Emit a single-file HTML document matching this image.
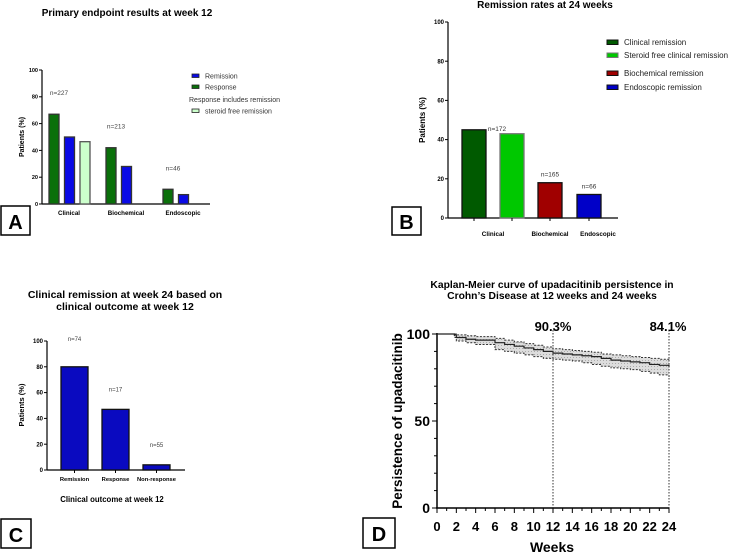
<!DOCTYPE html>
<html><head><meta charset="utf-8">
<style>
html,body{margin:0;padding:0;background:#fff;}
svg{display:block;font-family:"Liberation Sans",Arial,sans-serif;}
</style></head>
<body>
<svg id="fig" width="735" height="554" viewBox="0 0 735 554" xmlns="http://www.w3.org/2000/svg">
<defs>
<pattern id="hatch" width="3" height="3" patternUnits="userSpaceOnUse"><rect width="3" height="3" fill="#ddd"/><rect width="1" height="1" fill="#aaa"/></pattern>
</defs>
<text x="127" y="16" font-size="10" font-weight="bold" text-anchor="middle">Primary endpoint results at week 12</text>
<text x="545" y="8" font-size="10" font-weight="bold" text-anchor="middle">Remission rates at 24 weeks</text>
<text x="125" y="298" font-size="10.5" font-weight="bold" text-anchor="middle">Clinical remission at week 24  based on</text>
<text x="125" y="310" font-size="10.5" font-weight="bold" text-anchor="middle">clinical outcome at week 12</text>
<text x="552" y="288" font-size="10.3" font-weight="bold" text-anchor="middle">Kaplan-Meier curve of upadacitinib persistence in</text>
<text x="552" y="299" font-size="10.3" font-weight="bold" text-anchor="middle">Crohn’s Disease at 12 weeks and 24 weeks</text>

<g><rect x="1" y="206" width="29" height="29" fill="#fff" stroke="#000" stroke-width="1.5"/><text x="15.5" y="229" font-size="20" font-weight="bold" text-anchor="middle">A</text></g>
<g><rect x="392" y="207" width="29" height="28" fill="#fff" stroke="#000" stroke-width="1.5"/><text x="406.5" y="229" font-size="20" font-weight="bold" text-anchor="middle">B</text></g>
<g><rect x="1" y="519" width="30" height="29" fill="#fff" stroke="#000" stroke-width="1.5"/><text x="16" y="542" font-size="20" font-weight="bold" text-anchor="middle">C</text></g>
<g><rect x="363" y="518" width="32" height="30" fill="#fff" stroke="#000" stroke-width="1.5"/><text x="379" y="541" font-size="20" font-weight="bold" text-anchor="middle">D</text></g>

<g id="A"></g><g id="B"></g><g id="C"></g><g id="D"></g>
</svg>
<script>
// ---------- Panel A data ----------
const aCategories = ["Clinical","Biochemical","Endoscopic"];
const aResponse = [67, 42, 11];
const aRemission = [50, 28, 7];
const aSteroidFree = [46.5, null, null];
const aN = ["n=227","n=213","n=46"];
// ---------- Panel B data ----------
const bCategories = ["Clinical","Biochemical","Endoscopic"];
const bSeries = ["Clinical remission","Steroid free clinical remission","Biochemical remission","Endoscopic remission"];
const bValues = [45, 43, 18, 12];
const bN = ["n=172","","n=165","n=66"];
// ---------- Panel C data ----------
const cCategories = ["Remission","Response","Non-response"];
const cValues = [80, 47, 4];
const cN = ["n=74","n=17","n=55"];
// ---------- Panel D data ----------
const dTimes = [0,1.8,2,3,4,6,7,8,9,10,11,12,13,14,15,16,17,18,19,20,21,22,23,24];
const dSurv  = [100,99.5,98,97,96.5,95,94,93,92,91,90,89,88.5,88,87.5,87,86,85,84.5,84,83.5,82.5,82,81];
const dUpper = [100,100,99.5,99,98.5,97.5,96.5,95.5,94.5,93.5,92.5,91.5,91,90.5,90,89.5,88.5,88,87.5,87,86.5,86,85.5,85];
const dLower = [100,98,96,95,94,91,90,89,88,87,86,85.5,85,84.5,83.5,82.5,81.5,80.5,80,79.5,78.5,77.5,76.5,75];
const dXTicks = [0,2,4,6,8,10,12,14,16,18,20,22,24];
const dYTicks = [0,50,100];
const dMarks = [12,24];
const dMarkLabels = ["90.3%","84.1%"];

const NS="http://www.w3.org/2000/svg";
function mk(parent,tag,attrs,txt){const e=document.createElementNS(NS,tag);for(const k in attrs)e.setAttribute(k,attrs[k]);if(txt!==undefined)e.textContent=txt;parent.appendChild(e);return e;}
function lin(d0,d1,r0,r1){return v=>r0+(v-d0)*(r1-r0)/(d1-d0);}

function yAxis(g,x,y0,y1,ticks,fs,name){
  const ys=lin(0,100,y0,y1);
  const ax=mk(g,'line',{x1:x,x2:x,y1:y0,y2:y1,stroke:'#000','stroke-width':1.2});
  
  
  ticks.forEach(t=>{
    mk(g,'line',{x1:x-3,x2:x,y1:ys(t),y2:ys(t),stroke:'#000','stroke-width':1});
    const tl=mk(g,'text',{x:x-4,y:ys(t)+fs*0.35,'font-size':fs,'font-weight':'bold','text-anchor':'end'},t);
    
    
  });
  return ys;
}
function bar(g,x,w,ys,v,fill,stroke,name){
  const r=mk(g,'rect',{x:x,y:ys(v),width:w,height:ys(0)-ys(v),fill:fill,stroke:stroke,'stroke-width':1.3});
  
  
}
function label(g,x,y,t,fs,opts,name){
  const e=mk(g,'text',Object.assign({x:x,y:y,'font-size':fs,'text-anchor':'middle'},opts||{}),t);
  
  
  return e;
}

// ---------- Panel A ----------
(function(){
  const g=document.getElementById('A');
  const ys=yAxis(g,42,204,70,[0,20,40,60,80,100],5.5,'a-y-axis');
  mk(g,'line',{x1:42,x2:210,y1:204,y2:204,stroke:'#000','stroke-width':1.2});
  const groupX=[49,106,163];
  aCategories.forEach((c,i)=>{
    const gx=groupX[i];
    bar(g,gx,10,ys,aResponse[i],'#0a700a','#333','a-bar-response-'+c.toLowerCase());
    bar(g,gx+15.5,10,ys,aRemission[i],'#0a0ae6','#333','a-bar-remission-'+c.toLowerCase());
    if(aSteroidFree[i]!=null) bar(g,gx+31,10,ys,aSteroidFree[i],'#ccffcc','#555','a-bar-steroid-free-'+c.toLowerCase());
    label(g,gx+20,215,c,6.2,{'font-weight':'bold'},'a-x-label');
    const top=Math.max(aResponse[i],aRemission[i],aSteroidFree[i]||0);
    label(g,gx+10,ys(top)-19,aN[i],6.5,{fill:'#444'},'a-n-label');
  });
  label(g,24,137,'Patients (%)',7,{'font-weight':'bold',transform:'rotate(-90 24 137)'},'a-y-axis-title');
  [['#0a0ae6','Remission',76],['#0a700a','Response',87]].forEach(l=>{
    mk(g,'rect',{x:192,y:l[2]-2,width:7,height:3.5,fill:l[0],stroke:'#222','stroke-width':0.8});
    mk(g,'text',{x:205,y:l[2]+2.5,'font-size':7,fill:'#333'},l[1]);
  });
  mk(g,'text',{x:189,y:102,'font-size':7,fill:'#333'},'Response includes remission');
  mk(g,'rect',{x:192,y:109,width:7,height:3.5,fill:'#ccffcc',stroke:'#222','stroke-width':0.8});
  mk(g,'text',{x:205,y:113.5,'font-size':7,fill:'#333'},'steroid free remission');
})();

// ---------- Panel B ----------
(function(){
  const g=document.getElementById('B');
  const ys=yAxis(g,448,218,22,[0,20,40,60,80,100],6,'b-y-axis');
  mk(g,'line',{x1:448,x2:618,y1:218,y2:218,stroke:'#000','stroke-width':1.2});
  const fills=['#005a00','#00c800','#a00000','#0000c8'];
  const strokes=['#111','#777','#111','#111'];
  const bx=[462,500,538,577];
  bValues.forEach((v,i)=>{
    bar(g,bx[i],24,ys,v,fills[i],strokes[i],'b-bar-'+i);
    mk(g,'line',{x1:bx[i]+12,x2:bx[i]+12,y1:218,y2:221,stroke:'#000'});
    if(bN[i]) label(g,bx[i]+12+(i==0?23:0),ys(v)-(i==0?-1:6),bN[i],6.5,{fill:'#333'},'b-n-label');
  });
  const lx=[493,550,598];
  bCategories.forEach((c,i)=>label(g,lx[i],236,c,6.3,{'font-weight':'bold'},'b-x-label'));
  label(g,425,120,'Patients (%)',8,{'font-weight':'bold',transform:'rotate(-90 425 120)'},'b-y-axis-title');
  const ly=[42,55,73,87];
  bSeries.forEach((s,i)=>{
    mk(g,'rect',{x:607,y:ly[i]-2,width:11,height:4.5,fill:fills[i],stroke:strokes[i],'stroke-width':1});
    const t=mk(g,'text',{x:624,y:ly[i]+3,'font-size':8,fill:'#222'},s);
    
    
  });
})();

// ---------- Panel C ----------
(function(){
  const g=document.getElementById('C');
  const ys=yAxis(g,47,470,341,[0,20,40,60,80,100],6,'c-y-axis');
  mk(g,'line',{x1:47,x2:185,y1:470,y2:470,stroke:'#000','stroke-width':1.2});
  const bx=[61,102,143];
  cValues.forEach((v,i)=>{
    bar(g,bx[i],27,ys,v,'#0a0ac0','#111','c-bar-'+cCategories[i].toLowerCase());
    mk(g,'line',{x1:bx[i]+13.5,x2:bx[i]+13.5,y1:470,y2:473,stroke:'#000'});
    label(g,bx[i]+13.5,481,cCategories[i],5.8,{'font-weight':'bold'},'c-x-label');
    label(g,bx[i]+13.5,ys(v)-(i==0?26:18),cN[i],6,{fill:'#444'},'c-n-label');
  });
  label(g,24,405,'Patients (%)',7.5,{'font-weight':'bold',transform:'rotate(-90 24 405)'},'c-y-axis-title');
  label(g,112,502,'Clinical outcome at week 12',7.8,{'font-weight':'bold'},'c-x-axis-title');
})();

// ---------- Panel D ----------
(function(){
  const g=document.getElementById('D');
  const xs=lin(0,24,437,669), ys=lin(0,100,508,334);
  const ay=mk(g,'line',{x1:437,x2:437,y1:508,y2:333,stroke:'#000','stroke-width':1.5});
  
  
  for(let v=0;v<=100;v+=10){mk(g,'line',{x1:v%50==0?432:434,x2:437,y1:ys(v),y2:ys(v),stroke:'#000','stroke-width':1});}
  dYTicks.forEach(t=>label(g,430,ys(t)+5,t,14,{'font-weight':'bold','text-anchor':'end'},'d-y-tick-label'));
  const ax=mk(g,'line',{x1:436,x2:669,y1:508,y2:508,stroke:'#000','stroke-width':1.5});
  
  
  for(let w=0;w<=24;w++){mk(g,'line',{x1:xs(w),x2:xs(w),y1:508,y2:w%2==0?513:511,stroke:'#000','stroke-width':1});}
  dXTicks.forEach(t=>label(g,xs(t),531,t,13,{'font-weight':'bold'},'d-x-tick-label'));
  label(g,552,552,'Weeks',14,{'font-weight':'bold'},'d-x-axis-title');
  label(g,402,421,'Persistence of upadacitinib',13.5,{'font-weight':'bold',transform:'rotate(-90 402 421)'},'d-y-axis-title');
  function stepPts(arr){let p=[];for(let i=0;i<dTimes.length;i++){if(i>0)p.push([xs(dTimes[i]),ys(arr[i-1])]);p.push([xs(dTimes[i]),ys(arr[i])]);}p.push([xs(24),ys(arr[arr.length-1])]);return p;}
  const up=stepPts(dUpper), lo=stepPts(dLower);
  const band=up.concat(lo.slice().reverse());
  const bd=mk(g,'path',{d:'M'+band.map(p=>p.join(',')).join('L')+'Z',fill:'url(#hatch)',stroke:'none'});
  
  
  [up,lo].forEach((pts,k)=>{
    const l=mk(g,'path',{d:'M'+pts.map(p=>p.join(',')).join('L'),fill:'none',stroke:'#333','stroke-width':1,'stroke-dasharray':'2,1.5'});
    
    
  });
  const s=mk(g,'path',{d:'M'+stepPts(dSurv).map(p=>p.join(',')).join('L'),fill:'none',stroke:'#222','stroke-width':1.2});
  
  
  dMarks.forEach((m,i)=>{
    const l=mk(g,'line',{x1:xs(m),x2:xs(m),y1:330,y2:508,stroke:'#333','stroke-width':1,'stroke-dasharray':'1.5,1.5'});
    
    
    label(g,xs(m)-(i==1?1:0),331,dMarkLabels[i],13,{'font-weight':'bold'},'d-marker-label');
  });
})();
</script>
</body></html>
